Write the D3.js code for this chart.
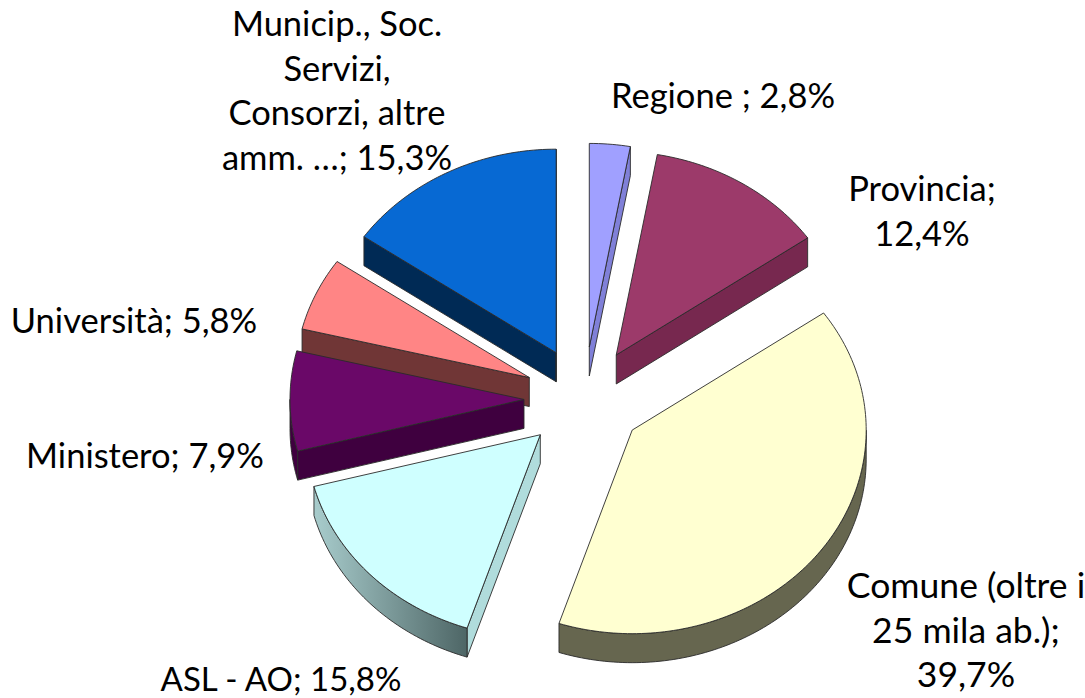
<!DOCTYPE html>
<html>
<head>
<meta charset="utf-8">
<script src="https://cdn.jsdelivr.net/npm/d3@7/dist/d3.min.js"></script>
<style>
html,body{margin:0;padding:0;background:#fff;overflow:hidden}
svg{display:block}
text{font-family:Lato,"Open Sans",sans-serif;fill:#000}
</style>
</head>
<body>
<script>
// Data
const categories = ["Regione", "Provincia", "Comune", "ASL", "Ministero", "Università", "Municip"];
const values = [2.8, 12.4, 39.7, 15.8, 7.9, 5.8, 15.3];
const labelLines = [
  ["Regione ; 2,8%"],
  ["Provincia;", "12,4%"],
  ["Comune (oltre i", "25 mila ab.);", "39,7%"],
  ["ASL - AO; 15,8%"],
  ["Ministero; 7,9%"],
  ["Università; 5,8%"],
  ["Municip., Soc.", "Servizi,", "Consorzi, altre", "amm. …; 15,3%"]
];
// Styles
const topColors = ["#A0A0FF", "#9C3A6A", "#FFFFD1", "#CFFFFF", "#6A0868", "#FF8585", "#0769D3"];
const edgeColors = ["#8080D8", "#77284F", "#66664F", "#B0DCDC", "#3F003F", "#703636", "#002A55"];
// Label layout: anchor centre x, first-line centre y, font size
const labelX = [723, 922, 966, 281, 145, 134, 337];
const labelY = [94, 187, 584, 678, 454, 319, 22];
const labelSize = [34.5, 34.5, 35.5, 33, 34.5, 34.5, 34.5];

const W = 1085, H = 698;
const cx = 584, cy = 399, R = 234, tilt = 0.87, depth = 29, explode = 60, lineGap = 44.6;

const svg = d3.select("body").append("svg").attr("width", W).attr("height", H);

const defs = svg.append("defs");
const grad = defs.append("linearGradient").attr("id", "aslWall")
  .attr("gradientUnits", "userSpaceOnUse").attr("x1", 314).attr("x2", 470).attr("y1", 0).attr("y2", 0);
grad.append("stop").attr("offset", "0%").attr("stop-color", "#A8CCCC");
grad.append("stop").attr("offset", "100%").attr("stop-color", "#4C6464");

const rScale = d3.scaleLinear().domain([0, 1]).range([0, R]);
const pie = d3.pie().sort(null).value(d => d)(values);

const project = (o, theta, r, dz = 0) => [
  o[0] + rScale(r) * Math.sin(theta),
  o[1] - tilt * rScale(r) * Math.cos(theta) + dz
];
const lineGen = d3.line();
const arcThetas = (a, b) => {
  const n = Math.max(2, Math.ceil((b - a) / 0.02));
  return d3.range(n + 1).map(i => a + (b - a) * i / n);
};

const slices = pie.map((p, i) => {
  const mid = (p.startAngle + p.endAngle) / 2;
  return {
    i, a: p.startAngle, b: p.endAngle, mid,
    o: [cx + explode * Math.sin(mid), cy - tilt * explode * Math.cos(mid)]
  };
}).sort((s, t) => Math.cos(t.mid) - Math.cos(s.mid));

const stroke = "#2a2a2a";
const g = svg.append("g").attr("stroke", stroke).attr("stroke-width", 0.9).attr("stroke-linejoin", "round");

slices.forEach(s => {
  const { i, a, b, o } = s;
  const sg = g.append("g").attr("class", "slice");
  // radial walls
  const wall = th => {
    const p0 = project(o, th, 0), p1 = project(o, th, 1);
    return [p0, p1, [p1[0], p1[1] + depth], [p0[0], p0[1] + depth]];
  };
  if (Math.sin(a) < 0) sg.append("path").attr("d", lineGen(wall(a)) + "Z").attr("fill", categories[i] === "ASL" ? "#B0DCDC" : edgeColors[i]);
  if (Math.sin(b) > 0) sg.append("path").attr("d", lineGen(wall(b)) + "Z").attr("fill", edgeColors[i]);
  // outer curved wall (front half only)
  const lo = Math.max(a, Math.PI / 2), hi = Math.min(b, 3 * Math.PI / 2);
  if (hi > lo) {
    const ts = arcThetas(lo, hi);
    const pts = ts.map(t => project(o, t, 1)).concat(ts.slice().reverse().map(t => project(o, t, 1, depth)));
    sg.append("path").attr("d", lineGen(pts) + "Z")
      .attr("fill", categories[i] === "ASL" ? "url(#aslWall)" : edgeColors[i]);
  }
  // top face
  const top = [project(o, a, 0)].concat(arcThetas(a, b).map(t => project(o, t, 1)));
  sg.append("path").attr("d", lineGen(top) + "Z").attr("fill", topColors[i]);
});

labelLines.forEach((lines, i) => {
  const t = svg.append("text").attr("text-anchor", "middle")
    .attr("font-size", labelSize[i]).attr("dominant-baseline", "central");
  lines.forEach((l, j) => {
    t.append("tspan").attr("x", labelX[i]).attr("y", labelY[i] + j * lineGap).text(l);
  });
});
</script>
</body>
</html>
